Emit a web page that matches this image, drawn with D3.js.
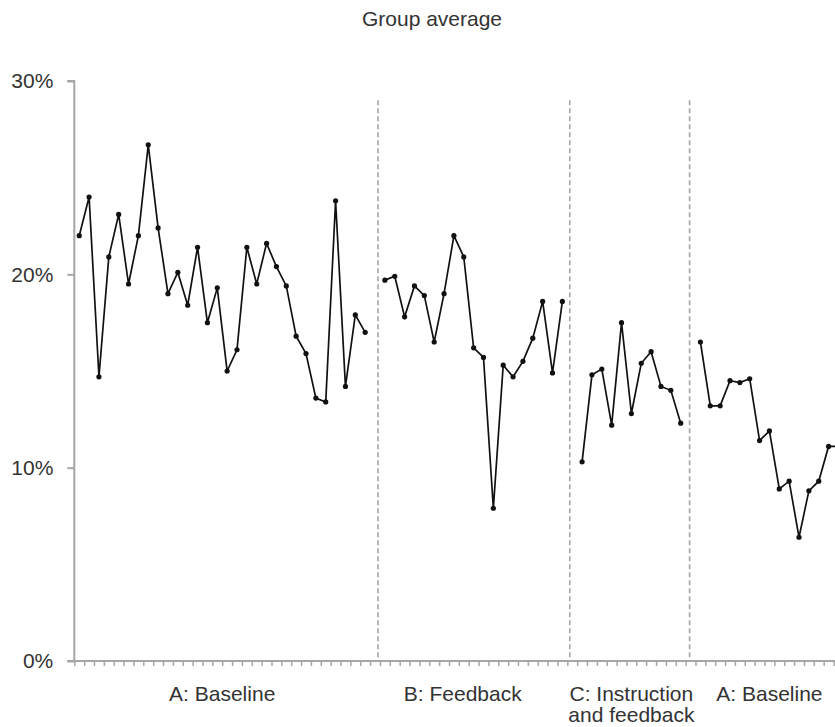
<!DOCTYPE html>
<html>
<head>
<meta charset="utf-8">
<script src="https://cdn.jsdelivr.net/npm/d3@7/dist/d3.min.js"></script>
<style>
  html, body { margin: 0; padding: 0; background: #fff; }
  svg { display: block; }
  text { font-family: "Liberation Sans", Arial, Helvetica, sans-serif; fill: #333; }
</style>
</head>
<body>
<svg id="chart" width="835" height="727"></svg>
<script>
// Group average percentage per session, one array per phase
const baselineA1 = [22.0, 24.0, 14.7, 20.9, 23.1, 19.5, 22.0, 26.7, 22.4, 19.0,
                    20.1, 18.4, 21.4, 17.5, 19.3, 15.0, 16.1, 21.4, 19.5, 21.6,
                    20.4, 19.4, 16.8, 15.9, 13.6, 13.4, 23.8, 14.2, 17.9, 17.0];
const feedbackB = [19.7, 19.9, 17.8, 19.4, 18.9, 16.5, 19.0, 22.0, 20.9, 16.2,
                   15.7, 7.9, 15.3, 14.7, 15.5, 16.7, 18.6, 14.9, 18.6];
const instructionC = [10.3, 14.8, 15.1, 12.2, 17.5, 12.8, 15.4, 16.0, 14.2, 14.0, 12.3];
const baselineA2 = [16.5, 13.2, 13.2, 14.5, 14.4, 14.6, 11.4, 11.9, 8.9, 9.3,
                    6.4, 8.8, 9.3, 11.1, 11.1];

// Phase names (label lines) and the session index where each phase begins
const phaseLabels = [["A: Baseline"], ["B: Feedback"], ["C: Instruction", "and feedback"], ["A: Baseline"]];
const phaseStart = [0, 31, 51, 63];
const phaseLabelAt = [15, 39.4, 56.5, 70.5];
// Phase-change lines, in session units
const phaseChangeAt = [30.8, 50.25, 62.4];
const sessionSlots = 78;
const yTicks = [0, 10, 20, 30];

const svg = d3.select("#chart");
const left = 74.3, slot = 9.86;
const x = d3.scaleLinear().domain([0, sessionSlots]).range([left, left + sessionSlots * slot]);
const y = d3.scaleLinear().domain([0, 30]).range([661, 81]);

const phases = [baselineA1, feedbackB, instructionC, baselineA2].map((vals, p) =>
  vals.map((v, i) => ({ s: phaseStart[p] + i, v })));

// Title
svg.append("text").attr("x", 432).attr("y", 26).attr("text-anchor", "middle")
  .style("font-size", "21px").text("Group average");

// Y axis
const yAxis = d3.axisLeft(y).tickValues(yTicks).tickSize(7).tickPadding(14)
  .tickFormat(d => d + "%");
const gy = svg.append("g").attr("transform", `translate(${left},0)`).call(yAxis);
gy.select(".domain").attr("stroke", "#a6a6a6").attr("stroke-width", 2)
  .attr("d", `M-7,${y(30)}H0V${y(0)}`);
gy.selectAll(".tick line").attr("stroke", "#a6a6a6").attr("stroke-width", 2);
gy.selectAll(".tick text").style("font-size", "21px").attr("fill", "#333")
  .style("font-family", "Liberation Sans, Arial, sans-serif");

// X axis: one tick per session boundary
const xAxis = d3.axisBottom(x).tickValues(d3.range(0, sessionSlots + 1)).tickSize(5)
  .tickFormat("");
const gx = svg.append("g").attr("transform", `translate(0,${y(0)})`).call(xAxis);
gx.select(".domain").attr("stroke", "#a6a6a6").attr("stroke-width", 2)
  .attr("d", `M${left - 7},0H${x(sessionSlots)}`);
gx.selectAll(".tick line").attr("stroke", "#a6a6a6").attr("stroke-width", 1.5);

// Phase-change lines
svg.append("g").selectAll("line").data(phaseChangeAt).join("line")
  .attr("x1", d => x(d)).attr("x2", d => x(d))
  .attr("y1", y(29)).attr("y2", y(0))
  .attr("stroke", "#a6a6a6").attr("stroke-width", 1.6)
  .attr("stroke-dasharray", "5,3");

// Phase labels
const lbl = svg.append("g").selectAll("text").data(phaseLabels).join("text")
  .attr("x", (d, i) => x(phaseLabelAt[i])).attr("y", 701)
  .attr("text-anchor", "middle").style("font-size", "21px");
lbl.selectAll("tspan").data(d => d).join("tspan")
  .attr("x", function () { return this.parentNode.getAttribute("x"); })
  .attr("dy", (d, i) => i === 0 ? 0 : 21)
  .text(d => d);

// Lines and points
const line = d3.line().x(d => x(d.s + 0.5)).y(d => y(d.v));
const g = svg.append("g");
g.selectAll("path.series").data(phases).join("path")
  .attr("class", "series").attr("d", line)
  .attr("fill", "none").attr("stroke", "#111").attr("stroke-width", 1.7);
g.selectAll("circle").data(phases.flat()).join("circle")
  .attr("cx", d => x(d.s + 0.5)).attr("cy", d => y(d.v)).attr("r", 2.6)
  .attr("fill", "#111");
</script>
</body>
</html>
